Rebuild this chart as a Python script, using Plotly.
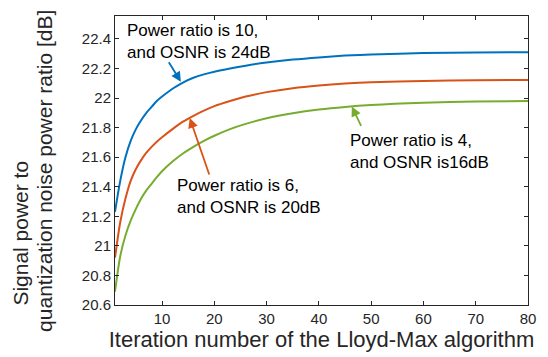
import plotly.graph_objects as go

iterations = [1, 2, 3, 4, 5, 6, 7, 8, 9, 10, 12, 14, 16, 18, 20, 23, 26, 30, 35, 40, 45, 50, 60, 70, 80]
snr_ratio10 = [21.23, 21.44, 21.60, 21.71, 21.79, 21.85, 21.90, 21.94, 21.98, 22.01, 22.063, 22.105, 22.137, 22.16,
               22.178, 22.20, 22.219, 22.24, 22.26, 22.275, 22.287, 22.295, 22.304, 22.308, 22.31]
snr_ratio6 = [20.92, 21.16, 21.32, 21.44, 21.52, 21.58, 21.63, 21.67, 21.705, 21.735, 21.79, 21.84, 21.88, 21.915,
              21.945, 21.98, 22.01, 22.04, 22.067, 22.085, 22.098, 22.107, 22.116, 22.12, 22.122]
snr_ratio4 = [20.69, 20.93, 21.07, 21.17, 21.25, 21.32, 21.375, 21.42, 21.465, 21.505, 21.57, 21.625, 21.67, 21.71,
              21.745, 21.79, 21.825, 21.863, 21.897, 21.922, 21.94, 21.953, 21.968, 21.976, 21.98]

x_ticks = [10, 20, 30, 40, 50, 60, 70, 80]
y_ticks = [20.6, 20.8, 21, 21.2, 21.4, 21.6, 21.8, 22, 22.2, 22.4]
y_title_lines = ["Signal power to", "quantization noise power ratio [dB]"]

BLUE, RED, GREEN = "#0072BD", "#D95319", "#77AC30"
AX = "#262626"
FONT = "Liberation Sans, Arial, sans-serif"

fig = go.Figure()
for ys, c in [(snr_ratio10, BLUE), (snr_ratio6, RED), (snr_ratio4, GREEN)]:
    fig.add_trace(go.Scatter(x=iterations, y=ys, mode="lines",
                             line=dict(color=c, width=2, shape="spline", smoothing=0.8),
                             showlegend=False, hoverinfo="skip"))

# annotation texts
texts = [
    ("Power ratio is 10,<br>and OSNR is 24dB", 2.9, 22.383),
    ("Power ratio is 6,<br>and OSNR is 20dB", 12.48, 21.333),
    ("Power ratio is 4,<br>and OSNR is16dB", 45.57, 21.639),
]
for t, x, y in texts:
    fig.add_annotation(x=x, y=y, text=t, showarrow=False, xanchor="left", yanchor="middle",
                       align="left", font=dict(family=FONT, size=17, color="black"))

# arrows (tip on curve, tail offset in px)
arrows = [
    (13.6, 22.11, -13, -21, BLUE),
    (15.3, 21.865, 20, 58, RED),
    (46.3, 21.943, 10, 21, GREEN),
]
for x, y, ax, ay, c in arrows:
    fig.add_annotation(x=x, y=y, ax=ax, ay=ay, text="", showarrow=True, arrowhead=2,
                       arrowsize=1.1, arrowwidth=1.8, arrowcolor=c)

# y-axis title (two rotated lines)
for txt, px, py in zip(y_title_lines, [-0.2276, -0.1695], [0.247, 0.464]):
    fig.add_annotation(x=px, y=py, xref="paper", yref="paper", text=txt, showarrow=False,
                       textangle=-90, xanchor="center", yanchor="middle",
                       font=dict(family=FONT, size=21, color=AX))

fig.update_layout(
    width=548, height=357,
    margin=dict(l=115, r=20, t=16, b=50),
    plot_bgcolor="white", paper_bgcolor="white",
    font=dict(family=FONT, color=AX),
)
fig.update_xaxes(range=[1, 80], tickvals=x_ticks, ticks="inside", ticklen=4, tickcolor=AX,
                 showline=True, linecolor=AX, linewidth=1, mirror="ticks", showgrid=False, zeroline=False,
                 tickfont=dict(size=15, color=AX),
                 title=dict(text="Iteration number of the Lloyd-Max algorithm", font=dict(size=22, color=AX), standoff=3))
fig.update_yaxes(range=[20.6, 22.555], tickvals=y_ticks, ticks="inside", ticklen=4, tickcolor=AX,
                 showline=True, linecolor=AX, linewidth=1, mirror="ticks", showgrid=False, zeroline=False,
                 tickfont=dict(size=15, color=AX))

fig.write_html("out.html")
